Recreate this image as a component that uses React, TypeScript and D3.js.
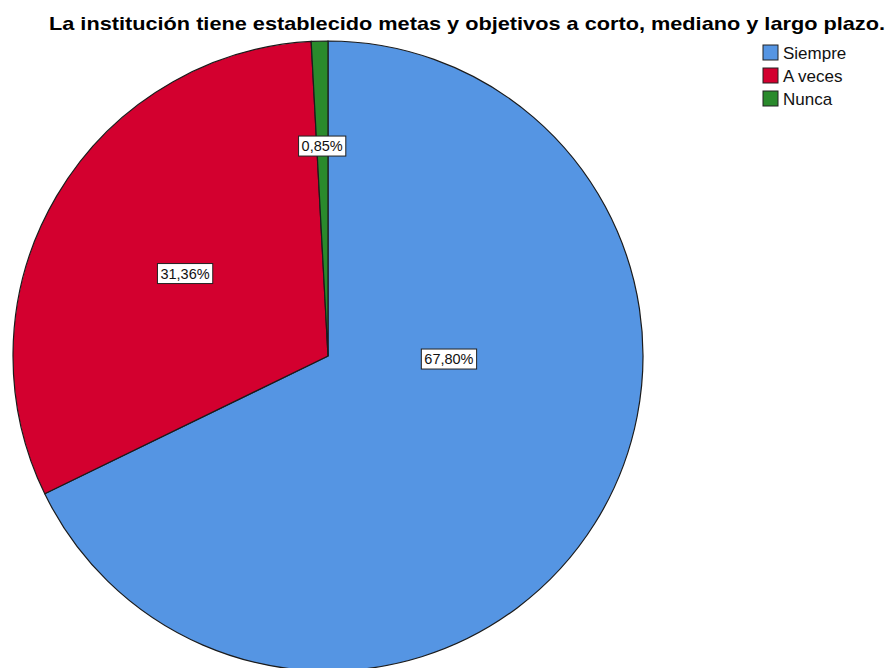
import { useEffect, useRef } from 'react';
import * as d3 from 'd3';

const categories = ['Siempre', 'A veces', 'Nunca'];
const percents = [67.8, 31.36, 0.85];
const labels = ['67,80%', '31,36%', '0,85%'];
const colors = ['#5595e3', '#d3002f', '#2a8a2c'];

const title = 'La institución tiene establecido metas y objetivos a corto, mediano y largo plazo.';

// where SPSS drops each label: angle (deg, clockwise from top) and fraction of radius
const labelPolar = [
  { angle: 91.4, frac: 0.384 },
  { angle: 300, frac: 0.524 },
  { angle: 358.4, frac: 0.667 },
];

const App = () => {
  const svgRef = useRef<SVGSVGElement>(null);

  useEffect(() => {
    const svg = d3.select(svgRef.current);
    svg.selectAll('*').remove();

    const width = 888;
    const height = 668;
    const cx = 328;
    const cy = 356;
    const radius = 315;
    const font = 'Liberation Sans, Arial, sans-serif';

    svg.attr('viewBox', [0, 0, width, height]);

    svg.append('rect').attr('width', width).attr('height', height).attr('fill', '#fff');

    const pie = d3.pie<number>().sort(null).value(d => d);
    const arc = d3.arc<d3.PieArcDatum<number>>().innerRadius(0).outerRadius(radius);
    const arcs = pie(percents);

    const g = svg.append('g').attr('transform', `translate(${cx},${cy})`);

    g.selectAll('path')
      .data(arcs)
      .join('path')
      .attr('d', arc)
      .attr('fill', (d, i) => colors[i])
      .attr('stroke', '#1b1b1b')
      .attr('stroke-width', 1.2);

    // value labels
    const lbl = g.selectAll('g.lbl')
      .data(arcs)
      .join('g')
      .attr('class', 'lbl')
      .attr('transform', (d, i) => {
        const a = (labelPolar[i].angle * Math.PI) / 180;
        const r = labelPolar[i].frac * radius;
        return `translate(${r * Math.sin(a)},${-r * Math.cos(a)})`;
      });

    lbl.append('text')
      .attr('text-anchor', 'middle')
      .attr('dy', '0.35em')
      .attr('font-family', font)
      .attr('font-size', 14.5)
      .attr('fill', '#111')
      .text((d, i) => labels[i]);

    lbl.each(function () {
      const grp = d3.select(this);
      const bb = (grp.select('text').node() as SVGTextElement).getBBox();
      grp.insert('rect', 'text')
        .attr('x', bb.x - 3)
        .attr('y', bb.y - 2)
        .attr('width', bb.width + 6)
        .attr('height', bb.height + 4)
        .attr('fill', '#fff')
        .attr('stroke', '#222')
        .attr('stroke-width', 1);
    });

    // title
    svg.append('text')
      .attr('x', 467)
      .attr('y', 30)
      .attr('text-anchor', 'middle')
      .attr('font-family', font)
      .attr('font-weight', 'bold')
      .attr('font-size', 19)
      .attr('textLength', 836)
      .attr('lengthAdjust', 'spacingAndGlyphs')
      .attr('fill', '#000')
      .text(title);

    // legend
    const legend = svg.append('g').attr('transform', 'translate(763,45)');
    const rows = legend.selectAll('g')
      .data(categories)
      .join('g')
      .attr('transform', (d, i) => `translate(0,${i * 23})`);

    rows.append('rect')
      .attr('width', 15)
      .attr('height', 15)
      .attr('fill', (d, i) => colors[i])
      .attr('stroke', '#222')
      .attr('stroke-width', 1);

    rows.append('text')
      .attr('x', 20)
      .attr('y', 8)
      .attr('dy', '0.35em')
      .attr('font-family', font)
      .attr('font-size', 17)
      .attr('fill', '#111')
      .text(d => d);
  }, []);

  return (
    <svg
      ref={svgRef}
      width={888}
      height={668}
      style={{ position: 'absolute', top: 0, left: 0, display: 'block' }}
    />
  );
};

export default App;
